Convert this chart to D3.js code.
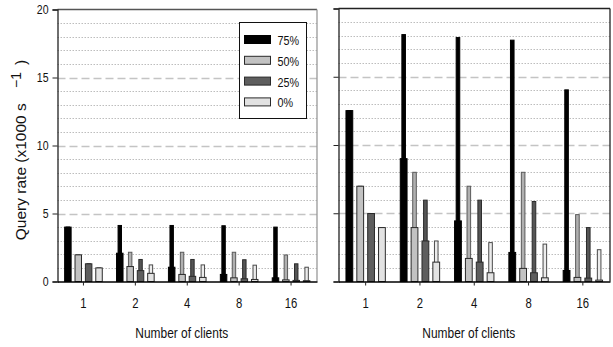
<!DOCTYPE html>
<html><head><meta charset="utf-8">
<script src="https://cdn.jsdelivr.net/npm/d3@7"></script>
<style>
body{margin:0;background:#fff}
svg{display:block}
text{font-family:"Liberation Sans",Arial,sans-serif}
</style>
</head><body>
<svg id="chart" width="613" height="347"></svg>
<script>
// Categories and series
const clients = ["1", "2", "4", "8", "16"];
const loads = ["75%", "50%", "25%", "0%"];
const yTicks = [0, 5, 10, 15, 20];

// Left panel: total rate (thin bars) and per-client rate (wide bars), x1000 queries/s
const leftTotal75 = [4.0, 4.12, 4.12, 4.1, 4.0];
const leftTotal50 = [1.96, 2.15, 2.15, 2.15, 1.95];
const leftTotal25 = [1.3, 1.62, 1.62, 1.6, 1.3];
const leftTotal0  = [1.0, 1.22, 1.22, 1.2, 1.05];
const leftPer75 = [4.0, 2.08, 1.05, 0.52, 0.27];
const leftPer50 = [1.96, 1.1, 0.52, 0.27, 0.12];
const leftPer25 = [1.3, 0.8, 0.38, 0.2, 0.08];
const leftPer0  = [1.0, 0.6, 0.3, 0.15, 0.06];

// Right panel
const rightTotal75 = [12.52, 18.09, 17.87, 17.68, 14.04];
const rightTotal50 = [6.98, 8.0, 6.98, 8.0, 4.9];
const rightTotal25 = [4.98, 5.96, 5.96, 5.86, 3.95];
const rightTotal0  = [3.95, 2.97, 2.85, 2.74, 2.33];
const rightPer75 = [12.52, 9.0, 4.44, 2.13, 0.81];
const rightPer50 = [6.98, 3.95, 1.69, 0.96, 0.3];
const rightPer25 = [4.98, 2.97, 1.42, 0.64, 0.25];
const rightPer0  = [3.95, 1.42, 0.64, 0.27, 0.1];

const fills = {"75%": "#000000", "50%": "#c2c2c2", "25%": "#5e5e5e", "0%": "#e2e2e2"};
const strokes = {"75%": "#000000", "50%": "#2a2a2a", "25%": "#2a2a2a", "0%": "#2a2a2a"};
const thinFills = {"75%": "#000000", "50%": "#b0b0b0", "25%": "#555555", "0%": "#ececec"};
const thinStrokes = {"75%": "#000000", "50%": "#5a5a5a", "25%": "#2a2a2a", "0%": "#4a4a4a"};

// condensed lettering: Liberation Sans squeezed horizontally
function narrowText(sel, sq = 0.82) {
  sel.each(function () {
    const t = d3.select(this);
    const x = +(t.attr("x") || 0);
    t.attr("x", x / sq).attr("transform", `scale(${sq},1)`);
  });
}

function rows(totals, pers) {
  const out = [];
  clients.forEach((c, i) => loads.forEach((l, j) => {
    out.push({client: c, load: l, total: totals[j][i], per: pers[j][i]});
  }));
  return out;
}

const svg = d3.select("#chart");

function panel(opt) {
  const g = svg.append("g");
  const y = d3.scaleLinear().domain([0, 20]).range([opt.bottom, opt.top]);
  const x = d3.scaleBand().domain(clients).range([opt.left, opt.right]);
  const bw = x.bandwidth();
  const xs = d3.scaleBand().domain(loads).range([0.1 * bw, 0.9 * bw]);
  const wide = 0.125 * bw, thin = 0.066 * bw;

  // horizontal grid: dotted every unit, dashed every five
  const minor = d3.range(1, 20).filter(v => v % 5 !== 0);
  g.selectAll("line.minor").data(minor).join("line")
    .attr("x1", opt.left).attr("x2", opt.right)
    .attr("y1", d => Math.round(y(d)) + 0.5).attr("y2", d => Math.round(y(d)) + 0.5)
    .attr("stroke", "#bdbdbd").attr("stroke-width", 1).attr("stroke-dasharray", "1.5,1.5");
  g.selectAll("line.major").data([5, 10, 15]).join("line")
    .attr("x1", opt.left).attr("x2", opt.right)
    .attr("y1", d => Math.round(y(d)) + 0.5).attr("y2", d => Math.round(y(d)) + 0.5)
    .attr("stroke", "#c4c4c4").attr("stroke-width", 1.4).attr("stroke-dasharray", "8,4");

  // frame: top and right edges
  g.append("line").attr("x1", opt.left).attr("x2", opt.right)
    .attr("y1", opt.top).attr("y2", opt.top).attr("stroke", opt.topColor).attr("stroke-width", 1.3);
  g.append("line").attr("x1", opt.right).attr("x2", opt.right)
    .attr("y1", opt.top).attr("y2", opt.bottom).attr("stroke", opt.rightColor).attr("stroke-width", 1.3);

  const data = rows(opt.totals, opt.pers);
  const cx = d => x(d.client) + xs(d.load) + xs.bandwidth() / 2;

  // total rate: thin bars behind
  g.selectAll("rect.total").data(data).join("rect")
    .attr("x", d => cx(d) - thin / 2).attr("width", thin)
    .attr("y", d => y(d.total)).attr("height", d => y(0) - y(d.total))
    .attr("fill", d => thinFills[d.load]).attr("stroke", d => thinStrokes[d.load]).attr("stroke-width", 1);
  // per-client rate: wide bars in front
  g.selectAll("rect.per").data(data).join("rect")
    .attr("x", d => cx(d) - wide / 2).attr("width", wide)
    .attr("y", d => y(d.per)).attr("height", d => y(0) - y(d.per))
    .attr("fill", d => fills[d.load]).attr("stroke", d => strokes[d.load]).attr("stroke-width", 1);

  // axes
  const yAxis = d3.axisLeft(y).tickValues(yTicks).tickSize(5).tickPadding(4)
    .tickFormat(opt.yLabels ? d3.format("d") : "");
  const ya = g.append("g").attr("transform", `translate(${opt.left},0)`).call(yAxis);
  ya.attr("font-family", null);
  ya.select(".domain").attr("stroke", "#222").attr("stroke-width", 1.3);
  ya.selectAll(".tick line").attr("stroke", "#222");
  ya.selectAll("text").attr("font-size", 13.5).attr("fill", "#111").call(narrowText, 0.78);

  const xAxis = d3.axisBottom(x).tickSize(4).tickPadding(12).tickSizeOuter(0);
  const xa = g.append("g").attr("transform", `translate(0,${opt.bottom})`).call(xAxis);
  xa.attr("font-family", null);
  xa.select(".domain").attr("stroke", "#000").attr("stroke-width", 1.5);
  xa.selectAll(".tick line").attr("stroke", "#222");
  xa.selectAll("text").attr("font-size", 14.5).attr("fill", "#111").call(narrowText, 0.78);

  g.append("text")
    .attr("x", (opt.left + opt.right) / 2 - 5.5).attr("y", 338.5)
    .attr("text-anchor", "middle").attr("font-size", 15.5).attr("fill", "#111")
    .text("Number of clients").call(narrowText, 0.77);
  return {g, y};
}

panel({left: 57.5, right: 317, top: 9.5, bottom: 281.5, yLabels: true,
  topColor: "#555", rightColor: "#999",
  totals: [leftTotal75, leftTotal50, leftTotal25, leftTotal0],
  pers: [leftPer75, leftPer50, leftPer25, leftPer0]});

panel({left: 338.5, right: 610, top: 8.5, bottom: 281.5, yLabels: false,
  topColor: "#222", rightColor: "#222",
  totals: [rightTotal75, rightTotal50, rightTotal25, rightTotal0],
  pers: [rightPer75, rightPer50, rightPer25, rightPer0]});

// y axis title
const yt = svg.append("text")
  .attr("transform", "translate(26,150) rotate(-90)")
  .attr("text-anchor", "middle")
  .attr("font-size", 15.5).attr("fill", "#111");
yt.append("tspan").text("Query rate (x1000 s ");
yt.append("tspan").attr("dy", -5).attr("dx", 11).attr("font-size", 14).text("\u22121");
yt.append("tspan").attr("dy", 5).attr("dx", 7).text(")");

// legend
const legend = svg.append("g");
legend.append("rect").attr("x", 239.5).attr("y", 22.5).attr("width", 67).attr("height", 96)
  .attr("fill", "#fff").attr("stroke", "#111").attr("stroke-width", 1);
const li = legend.selectAll("g.item").data(loads).join("g")
  .attr("transform", (d, i) => `translate(244.5,${35.5 + i * 20.8})`);
li.append("rect").attr("width", 26).attr("height", 8)
  .attr("fill", d => fills[d]).attr("stroke", d => strokes[d]).attr("stroke-width", 1);
li.append("text").attr("x", 33).attr("y", 9.5)
  .attr("font-size", 13.5).attr("fill", "#111").text(d => d).call(narrowText, 0.8);
</script>
</body></html>
